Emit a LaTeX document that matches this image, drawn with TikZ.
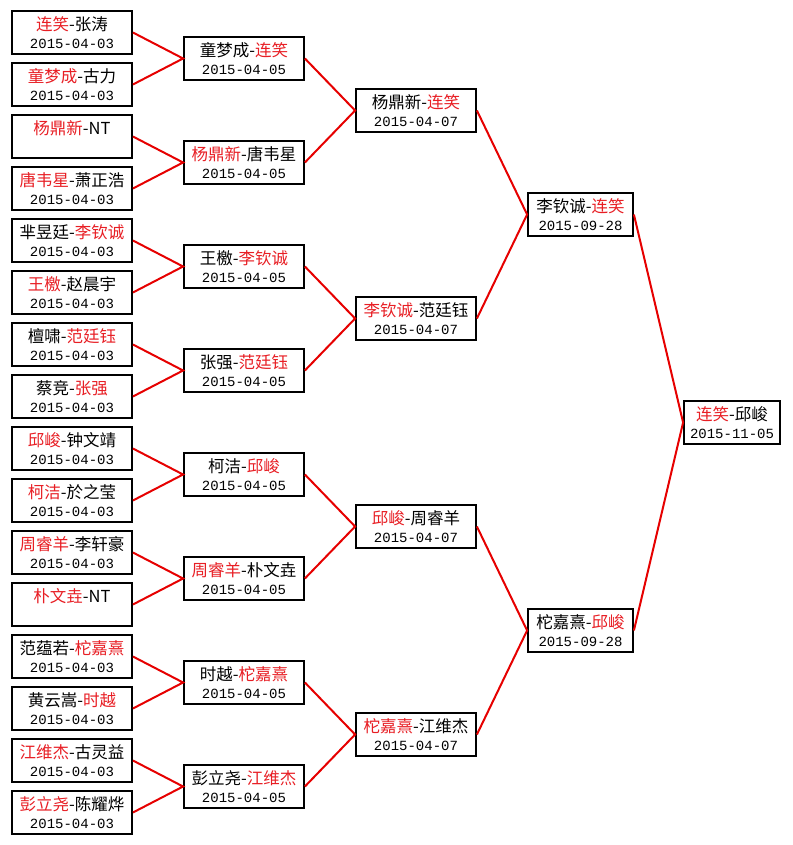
\documentclass[tikz,border=0pt]{standalone}
\usepackage{fontspec}
\setmainfont{Liberation Serif}
\newfontfamily\cjk{Noto Sans CJK SC}
\newfontfamily\datefont{Liberation Mono}
\usepackage{tikz}
\definecolor{winRed}{RGB}{232, 30, 36}
\definecolor{lineRed}{RGB}{230, 0, 0}
\newcommand{\win}[1]{\textcolor{winRed}{#1}}
\newcommand{\when}[1]{{\datefont\fontsize{14}{18}\selectfont #1}}

\begin{document}
\begin{tikzpicture}[
    x=1pt, y=-1pt,
    matchbox/.style={rectangle, draw=black, fill=white, line width=1.8pt,
                     minimum width=120pt, minimum height=43pt, inner sep=0pt,
                     align=center, font=\cjk\fontsize{16.5}{18}\selectfont},
    semibox/.style={matchbox, minimum width=105pt},
    finalbox/.style={matchbox, minimum width=96pt},
    link/.style={draw=lineRed, line width=2pt},
  ]
    \useasboundingbox (0,0) rectangle (792,845);

    % 第一轮 2015-04-03
    \node[matchbox] (A1)  at (72,32.5)  {\win{连笑}-张涛\\\when{2015-04-03}};
    \node[matchbox] (A2)  at (72,84.5)  {\win{童梦成}-古力\\\when{2015-04-03}};
    \node[matchbox] (A3)  at (72,136.5) {\win{杨鼎新}-NT\\\when{\phantom{2015-04-03}}};
    \node[matchbox] (A4)  at (72,188.5) {\win{唐韦星}-萧正浩\\\when{2015-04-03}};
    \node[matchbox] (A5)  at (72,240.5) {芈昱廷-\win{李钦诚}\\\when{2015-04-03}};
    \node[matchbox] (A6)  at (72,292.5) {\win{王檄}-赵晨宇\\\when{2015-04-03}};
    \node[matchbox] (A7)  at (72,344.5) {檀啸-\win{范廷钰}\\\when{2015-04-03}};
    \node[matchbox] (A8)  at (72,396.5) {蔡竞-\win{张强}\\\when{2015-04-03}};
    \node[matchbox] (A9)  at (72,448.5) {\win{邱峻}-钟文靖\\\when{2015-04-03}};
    \node[matchbox] (A10) at (72,500.5) {\win{柯洁}-於之莹\\\when{2015-04-03}};
    \node[matchbox] (A11) at (72,552.5) {\win{周睿羊}-李轩豪\\\when{2015-04-03}};
    \node[matchbox] (A12) at (72,604.5) {\win{朴文垚}-NT\\\when{\phantom{2015-04-03}}};
    \node[matchbox] (A13) at (72,656.5) {范蕴若-\win{柁嘉熹}\\\when{2015-04-03}};
    \node[matchbox] (A14) at (72,708.5) {黄云嵩-\win{时越}\\\when{2015-04-03}};
    \node[matchbox] (A15) at (72,760.5) {\win{江维杰}-古灵益\\\when{2015-04-03}};
    \node[matchbox] (A16) at (72,812.5) {\win{彭立尧}-陈耀烨\\\when{2015-04-03}};

    % 第二轮 2015-04-05
    \node[matchbox] (B1) at (244,58.5)  {童梦成-\win{连笑}\\\when{2015-04-05}};
    \node[matchbox] (B2) at (244,162.5) {\win{杨鼎新}-唐韦星\\\when{2015-04-05}};
    \node[matchbox] (B3) at (244,266.5) {王檄-\win{李钦诚}\\\when{2015-04-05}};
    \node[matchbox] (B4) at (244,370.5) {张强-\win{范廷钰}\\\when{2015-04-05}};
    \node[matchbox] (B5) at (244,474.5) {柯洁-\win{邱峻}\\\when{2015-04-05}};
    \node[matchbox] (B6) at (244,578.5) {\win{周睿羊}-朴文垚\\\when{2015-04-05}};
    \node[matchbox] (B7) at (244,682.5) {时越-\win{柁嘉熹}\\\when{2015-04-05}};
    \node[matchbox] (B8) at (244,786.5) {彭立尧-\win{江维杰}\\\when{2015-04-05}};

    % 八强 2015-04-07
    \node[matchbox] (C1) at (416,110.5) {杨鼎新-\win{连笑}\\\when{2015-04-07}};
    \node[matchbox] (C2) at (416,318.5) {\win{李钦诚}-范廷钰\\\when{2015-04-07}};
    \node[matchbox] (C3) at (416,526.5) {\win{邱峻}-周睿羊\\\when{2015-04-07}};
    \node[matchbox] (C4) at (416,734.5) {\win{柁嘉熹}-江维杰\\\when{2015-04-07}};

    % 半决赛 2015-09-28
    \node[semibox] (D1) at (580.5,214.5) {李钦诚-\win{连笑}\\\when{2015-09-28}};
    \node[semibox] (D2) at (580.5,630.5) {柁嘉熹-\win{邱峻}\\\when{2015-09-28}};

    % 决赛
    \node[finalbox] (FIN) at (732,422.5) {\win{连笑}-邱峻\\\when{2015-11-05}};

    % 连线
    \draw[link] (A1.east)  -- (B1.west) -- (A2.east);
    \draw[link] (A3.east)  -- (B2.west) -- (A4.east);
    \draw[link] (A5.east)  -- (B3.west) -- (A6.east);
    \draw[link] (A7.east)  -- (B4.west) -- (A8.east);
    \draw[link] (A9.east)  -- (B5.west) -- (A10.east);
    \draw[link] (A11.east) -- (B6.west) -- (A12.east);
    \draw[link] (A13.east) -- (B7.west) -- (A14.east);
    \draw[link] (A15.east) -- (B8.west) -- (A16.east);
    \draw[link] (B1.east) -- (C1.west) -- (B2.east);
    \draw[link] (B3.east) -- (C2.west) -- (B4.east);
    \draw[link] (B5.east) -- (C3.west) -- (B6.east);
    \draw[link] (B7.east) -- (C4.west) -- (B8.east);
    \draw[link] (C1.east) -- (D1.west) -- (C2.east);
    \draw[link] (C3.east) -- (D2.west) -- (C4.east);
    \draw[link] (D1.east) -- (FIN.west) -- (D2.east);
  \end{tikzpicture}
\end{document}
